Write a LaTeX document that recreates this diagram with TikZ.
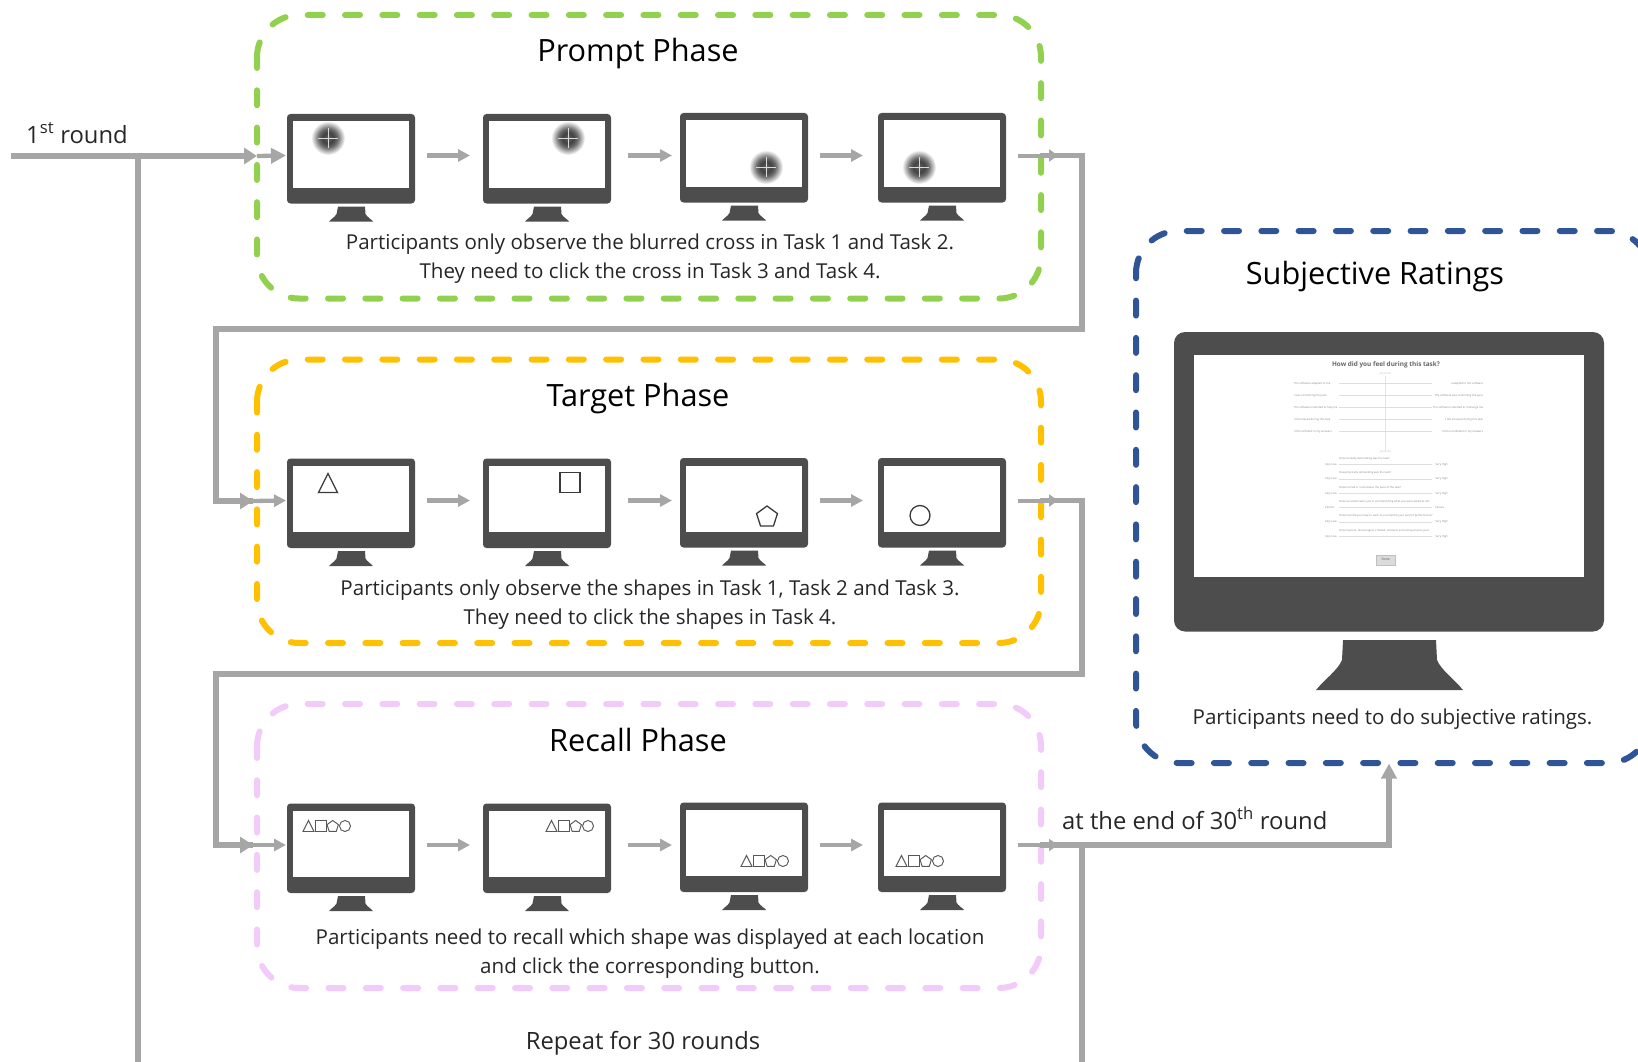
\documentclass[tikz,border=0pt]{standalone}
\usepackage{fontspec}
\setmainfont{Open Sans}
\usetikzlibrary{arrows.meta,calc}
\definecolor{mondark}{HTML}{4D4D4D}
\definecolor{flowgray}{HTML}{A6A6A6}
\definecolor{txt}{HTML}{262626}
\definecolor{pgreen}{HTML}{92D050}
\definecolor{pyellow}{HTML}{FFC000}
\definecolor{ppink}{HTML}{F3CBFB}
\definecolor{pblue}{HTML}{2F5597}
\definecolor{shapeink}{HTML}{3A3A3A}
\pgfdeclareradialshading{blurcross}{\pgfpointorigin}{color(0bp)=(black!62); color(8bp)=(black!74); color(14bp)=(black!58); color(25bp)=(white); color(50bp)=(white)}
\tikzset{
  phasebox/.style={line width=6pt,line cap=round,dash pattern=on 15pt off 22.3pt},
  flowthin/.style={draw=flowgray,line width=4.3pt,-{Triangle[length=12pt,width=12pt]}},
  flowthick/.style={draw=flowgray,line width=5.4pt,miter limit=10},
  flowin/.style={flowthick,-{Triangle[length=13pt,width=16pt]}},
  body/.style={font=\fontsize{20.55}{25}\selectfont,text=txt,inner sep=0pt,anchor=base},
  title/.style={font=\fontsize{30.7}{36}\selectfont,text=black,inner sep=0pt,anchor=base},
  big label/.style={font=\fontsize{23.8}{28}\selectfont,text=txt,inner sep=0pt},
  shp/.style={draw=shapeink,line width=1.3pt,line join=miter,fill=white},
  monbody/.style={fill=mondark,rounded corners=3.5pt,minimum width=128pt,minimum height=89.5pt,inner sep=0pt},
  monscreen/.style={fill=white,minimum width=116.5pt,minimum height=66pt,inner sep=0pt},
  tiny/.style={font=\fontsize{2.75}{3}\selectfont,text=black!48,inner sep=0pt},
  slider/.style={draw=black!13,line width=1.2pt},
}
% name, left x, top y, arrow level y
\newcommand{\monitor}[4]{%
  \node[monbody] (#1) at ({#2+64},{#3+44.75}) {};
  \node[monscreen] (#1-s) at ({#2+63.75},{#3+40.5}) {};
  \fill[mondark] ({#2+51},{#3+92.5}) -- ({#2+78},{#3+92.5}) -- ({#2+78.5},{#3+100})
     .. controls ({#2+80},{#3+103}) and ({#2+84},{#3+105}) .. ({#2+86},{#3+107.5})
     -- ({#2+42},{#3+107.5})
     .. controls ({#2+44},{#3+105}) and ({#2+48},{#3+103}) .. ({#2+49.5},{#3+100}) -- cycle;
  \coordinate (#1-l) at (#2,#4);
  \coordinate (#1-r) at ({#2+128},#4);
}
\newcommand{\blurcr}[2]{%
  \shade[shading=blurcross] (#1,#2) circle (17pt);
  \draw[white!85!black,line width=.9pt] ({#1-10},#2) -- ({#1+10},#2) ({#1},{#2-10}) -- ({#1},{#2+10});
}
\newcommand{\triS}[4][shp]{\draw[#1] ({#2-#4},{#3+#4}) -- (#2,{#3-#4}) -- ({#2+#4},{#3+#4}) -- cycle;}
\newcommand{\squS}[4][shp]{\draw[#1] ({#2-#4},{#3-#4}) rectangle ({#2+#4},{#3+#4});}
\newcommand{\penS}[4][shp]{\draw[#1] (#2,{#3-#4}) -- ({#2+.95*#4},{#3-.31*#4}) -- ({#2+.59*#4},{#3+.81*#4}) -- ({#2-.59*#4},{#3+.81*#4}) -- ({#2-.95*#4},{#3-.31*#4}) -- cycle;}
\newcommand{\cirS}[4][shp]{\draw[#1] (#2,#3) circle (#4pt);}
\tikzset{shpsmall/.style={shp,draw=shapeink!85,line width=.95pt}}
\newcommand{\fourS}[2]{%
  \triS[shpsmall]{#1+5.5}{#2+5.5}{5.5}
  \squS[shpsmall]{#1+17.5}{#2+5.5}{5.5}
  \penS[shpsmall]{#1+29.7}{#2+6}{6}
  \cirS[shpsmall]{#1+42}{#2+5.5}{5.5}
}
% colour, left, top, right, bottom
\newcommand{\phasebox}[5]{\draw[phasebox,draw=#1] (#2,{#3+42})
  .. controls (#2,{#3+19}) and ({#2+19},#3) .. ({#2+42},#3) -- ({#4-42},#3)
  .. controls ({#4-19},#3) and (#4,{#3+19}) .. (#4,{#3+42}) -- (#4,{#5-42})
  .. controls (#4,{#5-19}) and ({#4-19},#5) .. ({#4-42},#5) -- ({#2+42},#5)
  .. controls ({#2+19},#5) and (#2,{#5-19}) .. (#2,{#5-42}) -- cycle;}
\begin{document}
\begin{tikzpicture}[x=1pt,y=-1pt]
\useasboundingbox (0,0) rectangle (1638,1062);
\clip (0,0) rectangle (1638,1062);

% phase boxes
\phasebox{pgreen}{257}{15}{1041}{298.5}
\phasebox{pyellow}{257}{359.5}{1041}{643}
\phasebox{ppink}{257}{704}{1041}{988}
\phasebox{pblue}{1136}{231}{1650}{763}

% monitors
\monitor{pa}{287}{114}{155.5}
\monitor{pb}{483}{114}{155.5}
\monitor{pc}{680}{113}{155.5}
\monitor{pd}{878}{113}{155.5}
\monitor{ta}{287}{458.5}{500.5}
\monitor{tb}{483}{458.5}{500.5}
\monitor{tc}{680}{458}{500.5}
\monitor{td}{878}{458}{500.5}
\monitor{ra}{287}{803.5}{845}
\monitor{rb}{483}{803.5}{845}
\monitor{rc}{680}{802.5}{845}
\monitor{rd}{878}{802.5}{845}

% stimuli
\blurcr{328}{138}
\blurcr{568}{138}
\blurcr{766}{167}
\blurcr{919}{167}
\triS{328}{483}{9.5}
\squS{570}{482.5}{10}
\penS{767}{517}{11}
\cirS{920}{515.5}{10}
\fourS{303}{820.5}
\fourS{546}{820.5}
\fourS{741}{855.5}
\fourS{896}{855.5}

% connectors
\coordinate (startA) at (11,156);
\coordinate (entA) at (257,156);
\coordinate (splitL) at (138,156);
\coordinate (endL) at (138,1062);
\coordinate (exA) at (1058,155.5);
\coordinate (cAa) at (1040,155.5);
\coordinate (cAb) at (1082,155.5);
\coordinate (cAc) at (1082,329);
\coordinate (cAd) at (216,329);
\coordinate (cAe) at (216,501);
\coordinate (entB) at (253,501);
\coordinate (exB) at (1058,500.5);
\coordinate (cBa) at (1040,500.5);
\coordinate (cBb) at (1082,500.5);
\coordinate (cBc) at (1082,674);
\coordinate (cBd) at (216,674);
\coordinate (cBe) at (216,845);
\coordinate (entC) at (253,845);
\coordinate (exC) at (1058,845);
\coordinate (cCa) at (1040,845);
\coordinate (cCb) at (1082,845);
\coordinate (endR) at (1082,1062);
\coordinate (cCc) at (1389,845);
\coordinate (toRate) at (1389,763.5);

\draw[flowthick] (splitL) -- (endL);
\draw[flowthick] (cCb) -- (endR);
\draw[flowin] (startA) -- (entA);
\draw[flowthick] (cAa) -- (cAb) -- (cAc) -- (cAd) -- (cAe) -- (entB);
\draw[flowthick] (cBa) -- (cBb) -- (cBc) -- (cBd) -- (cBe) -- (entC);
\draw[flowin] (cAe) -- (entB);
\draw[flowin] (cBe) -- (entC);
\draw[flowin,-{Triangle[length=15pt,width=15pt]}] (cCa) -- (cCc) -- (toRate);

\draw[flowthin,-{Triangle[length=15pt,width=15pt]}] (entA) -- ([xshift=-1pt]pa-l);
\draw[flowthin] (entB) -- ([xshift=-1pt]ta-l);
\draw[flowthin] (entC) -- ([xshift=-1pt]ra-l);
\foreach \a/\b in {pa/pb,ta/tb,ra/rb}{\draw[flowthin,shorten <=12pt,shorten >=13pt] (\a-r) -- (\b-l);}
\foreach \a/\b in {pb/pc,tb/tc,rb/rc}{\draw[flowthin,shorten <=17pt,shorten >=8pt] (\a-r) -- (\b-l);}
\foreach \a/\b in {pc/pd,tc/td,rc/rd}{\draw[flowthin,shorten <=12pt,shorten >=15pt] (\a-r) -- (\b-l);}
\draw[flowthin,line width=4pt,-{Triangle[length=9pt,width=12pt]}] (pd-r) ++(12,0) -- (exA);
\draw[flowthin,line width=4pt,-{Triangle[length=9pt,width=12pt]}] (td-r) ++(12,0) -- (exB);
\draw[flowthin,line width=4pt,-{Triangle[length=9pt,width=12pt]}] (rd-r) ++(12,0) -- (exC);

% texts
\node[title] (tPrompt) at (638,62) {Prompt Phase};
\node[title] (tTarget) at (638,406) {Target Phase};
\node[title] (tRecall) at (638,751) {Recall Phase};
\node[title] (tSubj) at (1375,284) {Subjective Ratings};
\node[body] (pA) at (650,249) {Participants only observe the blurred cross in Task 1 and Task 2.};
\node[body] (pB) at (650,278) {They need to click the cross in Task 3 and Task 4.};
\node[body] (tA) at (650,595) {Participants only observe the shapes in Task 1, Task 2 and Task 3.};
\node[body] (tB) at (650,624) {They need to click the shapes in Task 4.};
\node[body] (rA) at (650,944) {Participants need to recall which shape was displayed at each location};
\node[body] (rB) at (650,973) {and click the corresponding button.};
\node[body] (sA) at (1392.5,724) {Participants need to do subjective ratings.};
\node[big label,anchor=base] (rep) at (643,1049) {Repeat for 30 rounds};
\node[big label,anchor=base west] (first) at (26,143) {1\textsuperscript{st} round};
\node[big label,anchor=base west] (last) at (1062,829) {at the end of 30\textsuperscript{th} round};

% big monitor
\node[fill=mondark,rounded corners=11pt,minimum width=430pt,minimum height=299.5pt,inner sep=0pt] (big) at (1389,481.75) {};
\node[fill=white,minimum width=390pt,minimum height=222pt,inner sep=0pt] (bigS) at (1389,466) {};
\fill[mondark] (1343,640) -- (1436,640) -- (1437,660)
  .. controls (1441,670) and (1455,680) .. (1463,690) -- (1316,690)
  .. controls (1324,680) and (1338,670) .. (1342,660) -- cycle;

\begin{scope}[shift={(1160,321.5)},x=.3333pt,y=-.3333pt]
  \node[inner sep=0pt,font=\fontsize{6.4}{8}\selectfont\bfseries,text=black!60] (qTitle) at (678,130) {How did you feel during this task?};
  \draw[black!10,line width=.5pt] (676,165) -- (676,385);
  \node[tiny,text=black!25] (nA) at (676,157) {(neutral)};
  \node[tiny,text=black!25] (nB) at (676,390) {(neutral)};
  \foreach \y/\l/\r [count=\i] in {
    187/{The software adapted to me}/{I adapted to the software},
    223/{I was controlling the pace}/{The software was controlling the pace},
    259/{The software intended to help me}/{The software intended to challenge me},
    295/{I felt relaxed during this task}/{I felt stressed during this task},
    331/{I felt confident in my answers}/{I felt unconfident in my answers}}{
    \draw[slider] (537,\y) -- (816,\y);
    \node[tiny,anchor=west] (la\i) at (402,\y) {\l};
    \node[tiny,anchor=east] (ra\i) at (970,\y) {\r};
  }
  \foreach \y/\q/\l/\r [count=\i] in {
    430/{How mentally demanding was the task?}/{Very Low}/{Very High},
    473/{How physically demanding was the task?}/{Very Low}/{Very High},
    516/{How hurried or rushed was the pace of the task?}/{Very Low}/{Very High},
    559/{How successful were you in accomplishing what you were asked to do?}/{Perfect}/{Failure},
    602/{How hard did you have to work to accomplish your level of performance?}/{Very Low}/{Very High},
    645/{How insecure, discouraged, irritated, stressed, and annoyed were you?}/{Very Low}/{Very High}}{
    \draw[slider] (537,\y) -- (816,\y);
    \node[tiny,anchor=west] (q\i) at (537,\y-18) {\q};
    \node[tiny,anchor=west] (ql\i) at (495,\y) {\l};
    \node[tiny,anchor=west] (qr\i) at (826,\y) {\r};
  }
  \node[fill=black!14,draw=black!25,line width=.4pt,minimum width=19.5pt,minimum height=10pt,inner sep=0pt,font=\fontsize{3.3}{4}\selectfont,text=black!65] (done) at (677,715) {Done};
\end{scope}
\end{tikzpicture}
\end{document}
